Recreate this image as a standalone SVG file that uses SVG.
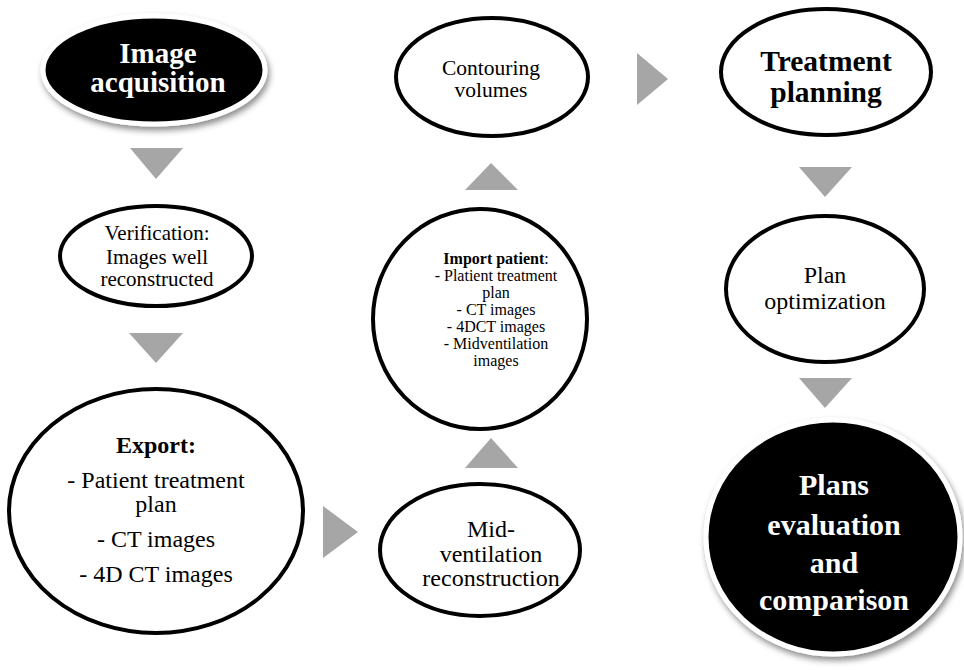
<svg xmlns="http://www.w3.org/2000/svg" width="964" height="670" viewBox="0 0 964 670">
<defs>
<filter id="sh" x="-20%" y="-20%" width="140%" height="150%">
<feDropShadow dx="2" dy="4" stdDeviation="3" flood-color="#000" flood-opacity="0.45"/>
</filter>
</defs>
<style>
.n{fill:#fff;stroke:#000;stroke-width:4}
.d{fill:#000;stroke:#fff;stroke-width:5;filter:url(#sh)}
.a{fill:#a6a6a6}
</style>
<rect width="964" height="670" fill="#fff"/>
<g id="connectors">
<polygon class="a" points="130,148 183,148 156,179"/>
<polygon class="a" points="129,333 183,333 156,363"/>
<polygon class="a" points="323,506 358,532 323,558"/>
<polygon class="a" points="465,468 491,438 518,468"/>
<polygon class="a" points="465,190 491,163 518,190"/>
<polygon class="a" points="637,53 668,79 637,105"/>
<polygon class="a" points="799,167 852,167 825,197"/>
<polygon class="a" points="799,378 852,378 825,408"/>
</g>
<g font-family="Liberation Serif, Times New Roman, serif" text-anchor="middle" fill="#000">
<g id="image-acquisition">
<ellipse class="d" cx="154" cy="70" rx="111" ry="54"/>
<text font-size="29" font-weight="bold" fill="#fff" x="158" y="63">Image</text>
<text font-size="29" font-weight="bold" fill="#fff" x="158" y="92">acquisition</text>
</g>
<g id="verification">
<ellipse class="n" cx="156" cy="256" rx="96" ry="50"/>
<text font-size="21" x="157" y="240">Verification:</text>
<text font-size="21" x="157" y="264">Images well</text>
<text font-size="21" x="157" y="286">reconstructed</text>
</g>
<g id="export">
<ellipse class="n" cx="156" cy="511" rx="147" ry="122"/>
<text font-size="24" font-weight="bold" x="156" y="453">Export:</text>
<text font-size="24" x="156" y="488">- Patient treatment</text>
<text font-size="24" x="156" y="512">plan</text>
<text font-size="24" x="156" y="547">- CT images</text>
<text font-size="24" x="156" y="582">- 4D CT images</text>
</g>
<g id="mid-ventilation">
<ellipse class="n" cx="480" cy="550" rx="100" ry="66"/>
<text font-size="24" x="491" y="537">Mid-</text>
<text font-size="24" x="491" y="562">ventilation</text>
<text font-size="24" x="491" y="586">reconstruction</text>
</g>
<g id="import-patient">
<ellipse class="n" cx="480" cy="319" rx="107" ry="110"/>
<text font-size="16" x="496" y="264"><tspan font-weight="bold">Import patient</tspan>:</text>
<text font-size="16" x="496" y="281">- Platient treatment</text>
<text font-size="16" x="496" y="298">plan</text>
<text font-size="16" x="496" y="315">- CT images</text>
<text font-size="16" x="496" y="332">- 4DCT images</text>
<text font-size="16" x="496" y="349">- Midventilation</text>
<text font-size="16" x="496" y="366">images</text>
</g>
<g id="contouring">
<ellipse class="n" cx="492" cy="77" rx="96" ry="59"/>
<text font-size="21.5" x="491" y="75">Contouring</text>
<text font-size="21.5" x="491" y="97">volumes</text>
</g>
<g id="treatment-planning">
<ellipse class="n" cx="826" cy="72" rx="105" ry="63"/>
<text font-size="29.5" font-weight="bold" x="826" y="71">Treatment</text>
<text font-size="29.5" font-weight="bold" x="826" y="102">planning</text>
</g>
<g id="plan-optimization">
<ellipse class="n" cx="825" cy="289" rx="99" ry="73"/>
<text font-size="24" x="825" y="283">Plan</text>
<text font-size="24" x="825" y="309">optimization</text>
</g>
<g id="plans-evaluation">
<ellipse class="d" cx="833" cy="537" rx="127" ry="117"/>
<text font-size="30" font-weight="bold" fill="#fff" x="834" y="495">Plans</text>
<text font-size="30" font-weight="bold" fill="#fff" x="834" y="535">evaluation</text>
<text font-size="30" font-weight="bold" fill="#fff" x="834" y="573">and</text>
<text font-size="30" font-weight="bold" fill="#fff" x="834" y="610">comparison</text>
</g>
</g>
</svg>
